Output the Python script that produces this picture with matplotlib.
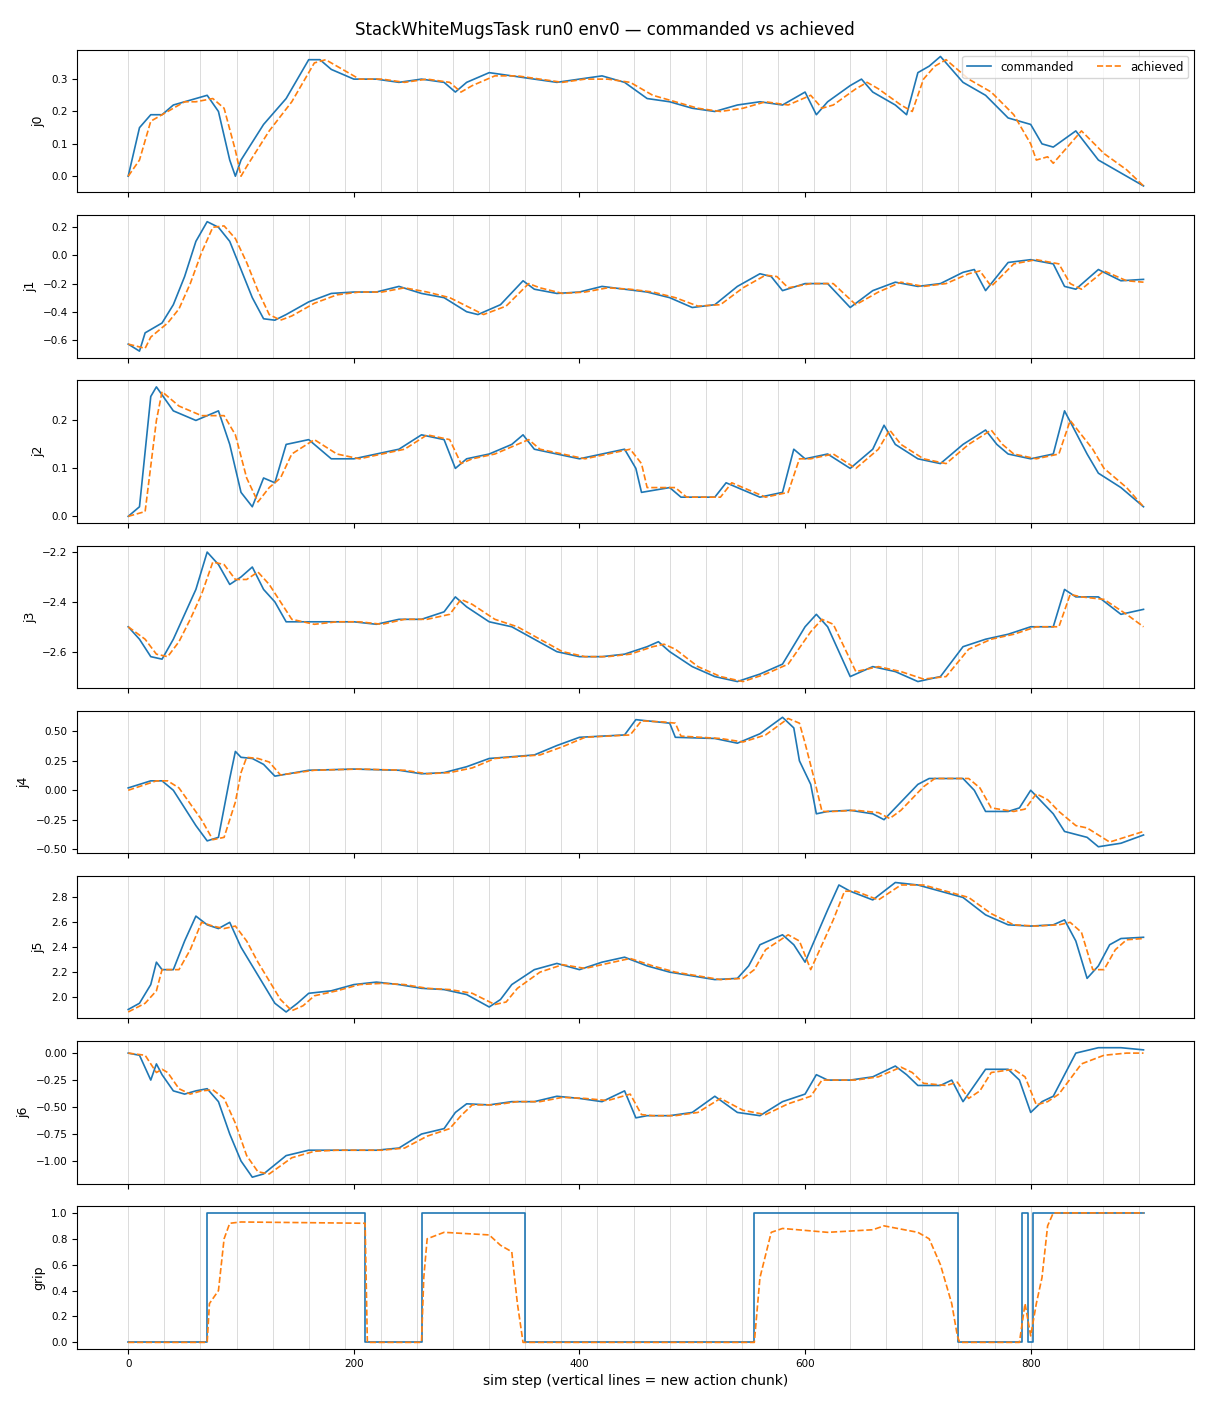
import numpy as np
import matplotlib.pyplot as plt
from matplotlib.ticker import MultipleLocator

# commanded / achieved keypoints (step, value)
j0_cmd_s = [0,10,20,30,40,50,60,70,80,90,95,100,120,140,150,160,170,180,200,220,240,260,280,290,300,320,340,360,380,400,420,440,460,480,500,520,540,560,580,600,610,620,640,650,660,680,690,700,710,720,740,760,780,800,810,820,840,860,880,900]
j0_cmd = [0.0,0.15,0.19,0.19,0.22,0.23,0.24,0.25,0.20,0.05,0.0,0.05,0.16,0.24,0.30,0.36,0.36,0.33,0.30,0.30,0.29,0.30,0.29,0.26,0.29,0.32,0.31,0.30,0.29,0.30,0.31,0.29,0.24,0.23,0.21,0.20,0.22,0.23,0.22,0.26,0.19,0.23,0.28,0.30,0.26,0.22,0.19,0.32,0.34,0.37,0.29,0.25,0.18,0.16,0.10,0.09,0.14,0.05,0.01,-0.03]
j0_ach_s = [0,10,20,30,40,50,60,75,85,95,100,105,125,145,155,165,175,185,205,225,245,265,285,295,305,325,345,365,385,405,425,445,465,485,505,525,545,565,585,605,615,625,645,655,665,685,695,705,715,725,745,765,785,800,805,815,820,830,845,865,885,900]
j0_ach = [0.0,0.05,0.17,0.19,0.21,0.23,0.23,0.24,0.21,0.08,0.0,0.03,0.14,0.23,0.29,0.35,0.36,0.34,0.30,0.30,0.29,0.30,0.29,0.26,0.28,0.31,0.31,0.30,0.29,0.30,0.30,0.29,0.25,0.23,0.21,0.20,0.21,0.23,0.22,0.25,0.21,0.22,0.27,0.29,0.27,0.22,0.20,0.30,0.34,0.36,0.30,0.26,0.19,0.10,0.05,0.06,0.04,0.08,0.14,0.07,0.02,-0.03]

j1_cmd_s = [0,10,15,30,40,50,60,70,80,90,100,110,120,130,140,160,180,200,220,240,260,280,300,310,330,350,360,380,400,420,440,460,480,500,520,540,560,570,580,600,620,640,660,680,700,720,740,750,760,780,800,820,830,840,860,880,900]
j1_cmd = [-0.63,-0.68,-0.55,-0.48,-0.35,-0.15,0.1,0.24,0.20,0.10,-0.10,-0.30,-0.45,-0.46,-0.42,-0.33,-0.27,-0.26,-0.26,-0.22,-0.27,-0.30,-0.40,-0.42,-0.35,-0.18,-0.24,-0.27,-0.26,-0.22,-0.24,-0.26,-0.30,-0.37,-0.35,-0.22,-0.13,-0.15,-0.25,-0.20,-0.20,-0.37,-0.25,-0.19,-0.22,-0.20,-0.12,-0.10,-0.25,-0.05,-0.03,-0.06,-0.22,-0.24,-0.10,-0.18,-0.17]
j1_ach_s = [0,15,20,35,45,55,65,75,85,95,105,115,125,135,145,165,185,205,225,245,265,285,305,315,335,355,365,385,405,425,445,465,485,505,525,545,565,575,585,605,625,645,665,685,705,725,745,755,765,785,805,825,835,845,865,885,900]
j1_ach = [-0.63,-0.66,-0.58,-0.48,-0.38,-0.20,0.02,0.20,0.21,0.12,-0.05,-0.25,-0.42,-0.46,-0.43,-0.34,-0.28,-0.26,-0.26,-0.23,-0.26,-0.30,-0.38,-0.42,-0.36,-0.20,-0.23,-0.27,-0.26,-0.23,-0.24,-0.26,-0.30,-0.36,-0.35,-0.23,-0.14,-0.15,-0.23,-0.20,-0.20,-0.35,-0.26,-0.19,-0.22,-0.20,-0.13,-0.11,-0.22,-0.06,-0.03,-0.06,-0.20,-0.24,-0.11,-0.18,-0.19]

j2_cmd_s = [0,10,20,25,40,60,80,90,100,110,120,130,140,160,180,200,220,240,260,280,290,300,320,340,350,360,380,400,420,440,450,455,480,490,520,530,560,580,590,600,620,640,660,670,680,700,720,740,760,770,780,800,820,830,850,860,880,900]
j2_cmd = [0.0,0.02,0.25,0.27,0.22,0.20,0.22,0.15,0.05,0.02,0.08,0.07,0.15,0.16,0.12,0.12,0.13,0.14,0.17,0.16,0.10,0.12,0.13,0.15,0.17,0.14,0.13,0.12,0.13,0.14,0.10,0.05,0.06,0.04,0.04,0.07,0.04,0.05,0.14,0.12,0.13,0.10,0.14,0.19,0.15,0.12,0.11,0.15,0.18,0.15,0.13,0.12,0.13,0.22,0.13,0.09,0.06,0.02]
j2_ach_s = [0,15,25,30,45,65,85,95,105,115,125,135,145,165,185,205,225,245,265,285,295,305,325,345,355,365,385,405,425,445,455,460,485,495,525,535,565,585,595,605,625,645,665,675,685,705,725,745,765,775,785,805,825,835,855,865,885,900]
j2_ach = [0.0,0.01,0.20,0.26,0.23,0.21,0.21,0.17,0.08,0.03,0.06,0.08,0.13,0.16,0.13,0.12,0.13,0.14,0.17,0.16,0.11,0.12,0.13,0.15,0.16,0.14,0.13,0.12,0.13,0.14,0.11,0.06,0.06,0.04,0.04,0.07,0.04,0.05,0.12,0.12,0.13,0.10,0.14,0.18,0.15,0.12,0.11,0.15,0.18,0.15,0.13,0.12,0.13,0.20,0.14,0.10,0.06,0.02]

j3_cmd_s = [0,10,20,30,40,50,60,70,80,90,100,110,120,130,140,160,180,200,220,240,260,280,290,300,320,340,360,380,400,420,440,460,470,480,500,520,540,560,580,600,610,620,640,660,680,700,720,740,760,780,800,820,830,840,860,880,900]
j3_cmd = [-2.50,-2.55,-2.62,-2.63,-2.55,-2.45,-2.35,-2.20,-2.25,-2.33,-2.30,-2.26,-2.35,-2.40,-2.48,-2.48,-2.48,-2.48,-2.49,-2.47,-2.47,-2.44,-2.38,-2.42,-2.48,-2.50,-2.55,-2.60,-2.62,-2.62,-2.61,-2.58,-2.56,-2.60,-2.66,-2.70,-2.72,-2.69,-2.65,-2.50,-2.45,-2.50,-2.70,-2.66,-2.68,-2.72,-2.70,-2.58,-2.55,-2.53,-2.50,-2.50,-2.35,-2.38,-2.38,-2.45,-2.43]
j3_ach_s = [0,15,25,35,45,55,65,75,85,95,105,115,125,135,145,165,185,205,225,245,265,285,295,305,325,345,365,385,405,425,445,465,475,485,505,525,545,565,585,605,615,625,645,665,685,705,725,745,765,785,805,825,835,845,865,885,900]
j3_ach = [-2.50,-2.55,-2.61,-2.62,-2.56,-2.47,-2.37,-2.24,-2.25,-2.31,-2.31,-2.28,-2.33,-2.40,-2.47,-2.49,-2.48,-2.48,-2.49,-2.47,-2.47,-2.45,-2.39,-2.41,-2.47,-2.50,-2.55,-2.60,-2.62,-2.62,-2.61,-2.58,-2.57,-2.59,-2.66,-2.70,-2.72,-2.69,-2.65,-2.52,-2.47,-2.49,-2.68,-2.66,-2.68,-2.71,-2.70,-2.59,-2.55,-2.53,-2.50,-2.50,-2.37,-2.38,-2.39,-2.45,-2.50]

j4_cmd_s = [0,20,30,40,60,70,80,90,95,100,110,120,130,160,200,240,260,280,300,320,360,380,400,420,440,450,470,480,485,520,540,560,580,590,595,605,610,620,640,660,670,680,700,710,740,750,760,780,790,800,810,820,830,850,860,880,900]
j4_cmd = [0.02,0.08,0.08,0.0,-0.30,-0.43,-0.40,0.10,0.33,0.28,0.27,0.22,0.12,0.17,0.18,0.17,0.14,0.15,0.20,0.27,0.30,0.38,0.45,0.46,0.47,0.60,0.58,0.57,0.45,0.44,0.40,0.48,0.62,0.53,0.25,0.05,-0.20,-0.18,-0.17,-0.20,-0.25,-0.15,0.05,0.10,0.10,0.0,-0.18,-0.18,-0.15,0.0,-0.10,-0.20,-0.35,-0.40,-0.48,-0.45,-0.38]
j4_ach_s = [0,25,35,45,65,75,85,95,100,105,115,125,135,165,205,245,265,285,305,325,365,385,405,425,445,455,475,485,490,525,545,565,585,595,600,608,615,625,645,665,675,685,705,715,745,755,765,785,795,805,815,825,840,850,870,900]
j4_ach = [0.0,0.08,0.08,0.02,-0.25,-0.42,-0.40,-0.10,0.15,0.28,0.27,0.24,0.13,0.17,0.18,0.17,0.14,0.15,0.19,0.27,0.30,0.37,0.45,0.46,0.47,0.59,0.58,0.57,0.46,0.44,0.41,0.47,0.61,0.57,0.40,0.10,-0.18,-0.18,-0.17,-0.19,-0.24,-0.17,0.03,0.10,0.10,0.02,-0.15,-0.18,-0.16,-0.03,-0.08,-0.18,-0.30,-0.32,-0.44,-0.35]

j5_cmd_s = [0,10,20,25,30,40,50,60,70,80,90,100,110,120,130,140,150,160,180,200,220,240,260,280,300,320,330,340,360,380,400,420,440,460,480,500,520,540,550,560,580,590,600,620,630,640,660,680,700,720,740,760,780,800,820,830,840,850,860,870,880,900]
j5_cmd = [1.90,1.95,2.10,2.28,2.22,2.22,2.45,2.65,2.58,2.55,2.60,2.40,2.25,2.10,1.95,1.88,1.95,2.03,2.05,2.10,2.12,2.10,2.07,2.06,2.02,1.92,1.98,2.10,2.22,2.27,2.22,2.28,2.32,2.25,2.20,2.17,2.14,2.15,2.25,2.42,2.50,2.42,2.28,2.70,2.90,2.85,2.78,2.92,2.90,2.85,2.80,2.66,2.58,2.57,2.58,2.62,2.45,2.15,2.25,2.42,2.47,2.48]
j5_ach_s = [0,15,25,30,35,45,55,65,75,85,95,105,115,125,135,145,155,165,185,205,225,245,265,285,305,325,335,345,365,385,405,425,445,465,485,505,525,545,555,565,585,595,605,625,635,645,665,685,705,725,745,765,785,805,825,835,845,855,865,875,885,900]
j5_ach = [1.88,1.95,2.05,2.22,2.22,2.22,2.38,2.60,2.57,2.55,2.57,2.45,2.28,2.13,1.98,1.89,1.93,2.01,2.05,2.10,2.11,2.10,2.07,2.06,2.03,1.94,1.96,2.07,2.20,2.26,2.23,2.27,2.31,2.25,2.20,2.17,2.14,2.15,2.22,2.38,2.50,2.45,2.22,2.62,2.85,2.85,2.78,2.90,2.90,2.85,2.80,2.67,2.58,2.57,2.58,2.60,2.52,2.22,2.22,2.38,2.46,2.47]

j6_cmd_s = [0,10,20,25,30,40,50,60,70,80,90,100,110,120,140,160,180,200,220,240,260,280,290,300,320,340,360,380,400,420,440,450,460,480,500,520,540,560,580,600,610,620,640,660,680,690,700,720,730,740,750,760,780,790,800,810,820,840,860,880,900]
j6_cmd = [0.0,-0.02,-0.25,-0.10,-0.20,-0.35,-0.38,-0.35,-0.33,-0.45,-0.75,-1.00,-1.15,-1.12,-0.95,-0.90,-0.90,-0.90,-0.90,-0.88,-0.75,-0.70,-0.55,-0.47,-0.48,-0.45,-0.45,-0.40,-0.42,-0.45,-0.35,-0.60,-0.58,-0.58,-0.55,-0.40,-0.55,-0.58,-0.45,-0.38,-0.20,-0.25,-0.25,-0.22,-0.12,-0.20,-0.30,-0.30,-0.25,-0.45,-0.30,-0.15,-0.15,-0.25,-0.55,-0.45,-0.40,0.0,0.05,0.05,0.03]
j6_ach_s = [0,15,25,30,35,45,55,65,75,85,95,105,115,125,145,165,185,205,225,245,265,285,295,305,325,345,365,385,405,425,445,455,465,485,505,525,545,565,585,605,615,625,645,665,685,695,705,725,735,745,755,765,785,795,805,815,825,845,865,885,900]
j6_ach = [0.0,-0.02,-0.18,-0.15,-0.18,-0.33,-0.38,-0.35,-0.34,-0.42,-0.65,-0.95,-1.10,-1.12,-0.97,-0.91,-0.90,-0.90,-0.90,-0.88,-0.77,-0.70,-0.58,-0.48,-0.48,-0.45,-0.45,-0.41,-0.42,-0.44,-0.38,-0.57,-0.58,-0.58,-0.55,-0.42,-0.53,-0.57,-0.47,-0.40,-0.25,-0.25,-0.25,-0.22,-0.13,-0.18,-0.28,-0.30,-0.27,-0.42,-0.35,-0.18,-0.15,-0.22,-0.48,-0.45,-0.38,-0.10,-0.02,0.0,0.0]

grip_cmd_s = [0,70,210,260,352,555,736,792,798,802,900]
grip_cmd = [0,1,0,1,0,1,0,1,0,1,1]
grip_ach_s = [0,70,72,80,85,90,100,210,212,260,262,265,280,320,330,340,345,350,555,560,570,580,620,660,670,700,710,720,730,735,737,790,795,800,805,810,815,820,900]
grip_ach = [0,0,0.3,0.4,0.8,0.92,0.93,0.92,0,0,0.5,0.8,0.85,0.83,0.75,0.70,0.3,0,0,0.5,0.85,0.88,0.85,0.87,0.9,0.85,0.80,0.60,0.3,0.05,0,0,0.3,0.05,0.3,0.5,0.9,1.0,1.0]

joints = [("j0", j0_cmd_s, j0_cmd, j0_ach_s, j0_ach, 0.1),
          ("j1", j1_cmd_s, j1_cmd, j1_ach_s, j1_ach, 0.2),
          ("j2", j2_cmd_s, j2_cmd, j2_ach_s, j2_ach, 0.1),
          ("j3", j3_cmd_s, j3_cmd, j3_ach_s, j3_ach, 0.2),
          ("j4", j4_cmd_s, j4_cmd, j4_ach_s, j4_ach, 0.25),
          ("j5", j5_cmd_s, j5_cmd, j5_ach_s, j5_ach, 0.2),
          ("j6", j6_cmd_s, j6_cmd, j6_ach_s, j6_ach, 0.25),
          ("grip", grip_cmd_s, grip_cmd, grip_ach_s, grip_ach, 0.2)]

chunk_starts = np.arange(0, 901, 32)

fig, axes = plt.subplots(8, 1, figsize=(12.1, 14.08), sharex=True)
fig.subplots_adjust(left=0.064, right=0.987, top=0.9645, bottom=0.042, hspace=0.16)
fig.suptitle("StackWhiteMugsTask run0 env0 — commanded vs achieved", fontsize=12, y=0.985)

for ax, (name, cs, cv, as_, av, step) in zip(axes, joints):
    for c in chunk_starts:
        ax.axvline(c, color='lightgray', lw=0.7, alpha=0.8, zorder=0)
    if name == "grip":
        ax.plot(cs, cv, color='#1f77b4', lw=1.2, drawstyle='steps-post', label='commanded')
    else:
        ax.plot(cs, cv, color='#1f77b4', lw=1.2, label='commanded')
    ax.plot(as_, av, color='#ff7f0e', lw=1.2, ls='--', label='achieved')
    ax.yaxis.set_major_locator(MultipleLocator(step))
    ax.set_ylabel(name, fontsize=9)
    ax.tick_params(labelsize=7.5)

axes[0].legend(loc='upper right', ncol=2, fontsize=8.5)
axes[-1].set_xlabel("sim step (vertical lines = new action chunk)", fontsize=10)

fig.savefig("out.png", dpi=100)
